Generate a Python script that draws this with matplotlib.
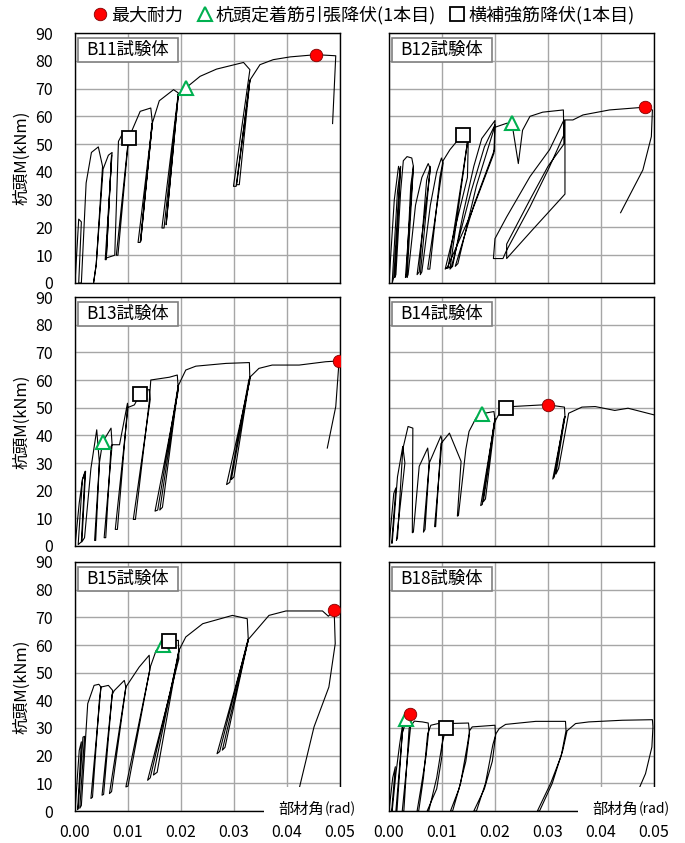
import numpy as np
import matplotlib
matplotlib.use('Agg')
import matplotlib.pyplot as plt
from matplotlib.lines import Line2D
from matplotlib.patches import Rectangle

plt.rcParams['font.family'] = ['Noto Sans CJK JP', 'DejaVu Sans']

# (部材角 [1/1000 rad], 杭頭M [kNm])
b11 = [(0, 0), (0.7, 23), (1.2, 22), (0.7, 0), (1.2, 0), (2.1, 36), (3.1, 47), (4.4, 49),
       (5.2, 42), (4.0, 6.6), (3.5, 0), (4.0, 6.6), (5.3, 41), (6.3, 46), (7.0, 47), (5.7, 8.4),
       (5.9, 8.4), (6.9, 46), (5.9, 9), (7.5, 10), (8.2, 51), (9.2, 54.6), (10.1, 52.2),
       (7.8, 10), (8.1, 10), (10.1, 52), (12.3, 61.8), (14.3, 63), (14.6, 57.6), (11.9, 14.6),
       (12.3, 14.6), (14.6, 57.6), (12.4, 15), (14.5, 57), (15.9, 65.6), (18.6, 69.6),
       (19.5, 68.4), (16.4, 19.8), (16.8, 19.8), (19.5, 68), (17.2, 21), (19.5, 68),
       (20.9, 70.2), (23.6, 74.4), (26.7, 77), (31.8, 79.4), (33.0, 76.8), (29.9, 34.8),
       (30.4, 34.8), (33.0, 73), (30.5, 35.4), (31.0, 35.4), (33.0, 73), (34.9, 78.6),
       (37.4, 80.4), (40.6, 81.4), (45.5, 82.2), (49.2, 81.8), (48.6, 57.4)]

b12 = [(0, 0), (1.0, 30), (1.8, 42), (2.1, 40), (0.9, 2), (0.6, 0), (1.6, 33), (2.2, 42),
       (1.1, 2), (1.3, 3), (2.2, 33), (2.7, 44), (3.4, 45.5), (4.3, 45), (4.6, 42), (3.1, 2),
       (3.3, 3), (4.1, 35), (4.6, 42), (3.4, 2), (3.6, 3), (5.0, 28), (6.2, 38), (7.4, 43),
       (7.8, 41), (5.3, 3), (5.7, 4), (7.1, 37), (7.8, 42), (5.9, 3), (6.2, 4), (7.8, 28),
       (9.0, 40), (9.9, 45), (10.2, 43), (7.3, 5), (7.7, 5), (9.6, 38), (10.2, 44), (11.5, 48),
       (12.8, 51), (13.9, 53.3), (15.0, 54.5), (14.8, 38), (10.6, 5), (11.2, 6), (13.8, 38),
       (14.9, 52), (11.5, 5), (12.0, 6), (14.0, 25), (16.0, 42), (17.5, 52), (20.0, 58.5),
       (19.8, 46.7), (15.5, 25), (10.9, 5.2), (11.8, 6), (15.5, 33), (18.0, 49), (20.0, 57),
       (19.9, 48), (16.0, 28), (12.5, 6), (13.0, 7), (16.5, 35), (19.9, 56), (22.2, 57.5),
       (23.2, 57.5), (24.4, 43), (25.2, 55), (26.6, 60), (29.0, 61.5), (32.9, 62.3),
       (33.0, 53.3), (30.3, 41.9), (26.6, 27.4), (22.2, 11.8), (21.5, 8.8), (19.7, 8.8),
       (20.0, 16), (22.2, 23.8), (26.6, 38.3), (30.3, 48), (33.0, 58.7), (33.0, 50),
       (30.0, 42), (26.6, 30), (22.2, 14), (22.2, 8.8), (27.0, 19), (33.2, 32), (33.2, 58.7),
       (34.7, 58.7), (36.6, 60.5), (41.6, 62.3), (48.3, 63.3), (49.7, 62.3), (49.5, 52.7),
       (47.9, 40.7), (43.7, 25.3)]

b13 = [(0, 0), (0.8, 15.6), (1.4, 24), (1.9, 27), (1.2, 1.5), (0.6, 0.5), (1.4, 24), (2.0, 27),
       (1.3, 1.5), (1.8, 3), (3.0, 28), (4.1, 42), (4.6, 30), (3.7, 2), (3.9, 2), (4.6, 30),
       (5.2, 37.5), (6.8, 42.6), (7.0, 36.6), (5.5, 3), (5.8, 3), (6.8, 36), (7.0, 36.6),
       (8.4, 36.6), (9.9, 51.6), (10.0, 50), (7.6, 6), (8.0, 6), (9.9, 50), (11.2, 51),
       (12.3, 54.9), (13.5, 56.4), (14.0, 56.5), (14.2, 53), (11.0, 9.6), (11.4, 9.6),
       (14.0, 52), (14.3, 60), (17.8, 61), (19.3, 61.8), (19.5, 56.4), (15.1, 12.6),
       (15.6, 13), (19.3, 56), (19.5, 58), (16.0, 13), (16.5, 14), (19.5, 58), (20.9, 63.6),
       (22.8, 65), (28.5, 66), (32.9, 66.3), (33.0, 60), (28.6, 22.2), (29.2, 23), (32.8, 60),
       (33.0, 61), (29.5, 24), (30.0, 25), (33.0, 61), (34.7, 64.2), (37.2, 65.4), (42.3, 65.4),
       (47.3, 66.6), (49.8, 66.9), (49.7, 63.6), (49.2, 50.4), (47.6, 35.4)]

b14 = [(0, 0), (0.9, 19), (1.3, 21), (0.5, 1), (0.6, 1), (1.6, 25), (2.6, 36), (3.0, 30),
       (1.4, 2), (1.6, 3), (2.6, 35), (3.6, 43.2), (4.5, 42.6), (4.4, 4.8), (4.6, 5), (5.7, 28.8),
       (7.3, 35.4), (7.6, 30), (6.5, 5), (6.8, 6), (7.6, 30), (9.8, 39.8), (10.0, 38), (8.6, 7),
       (8.8, 7), (9.8, 37), (11.4, 40.8), (13.6, 30.6), (12.9, 10.8), (13.1, 11), (14.5, 35),
       (15.1, 41.4), (16.4, 46.2), (17.5, 47.8), (19.8, 48.6), (20.0, 45.6), (17.3, 14.6),
       (17.6, 15), (19.8, 44), (20.0, 46), (17.8, 16), (18.2, 17), (20.0, 45), (21.0, 48.6),
       (22.0, 49.8), (23.2, 50.4), (28.9, 51), (30.0, 51), (33.1, 50.2), (33.2, 46.8),
       (30.9, 24.2), (31.2, 25), (33.0, 46), (33.2, 46.8), (31.5, 26), (32.0, 28), (33.9, 48),
       (36.4, 50.2), (38.9, 50.4), (42.6, 49), (45.1, 49.8), (50.0, 47.4)]

b15 = [(0, 0), (0.8, 21.9), (1.2, 25), (0.5, 0.5), (0.6, 1), (1.5, 26.7), (1.8, 27), (0.9, 1),
       (1.2, 2), (2.4, 38.8), (3.6, 45.4), (4.5, 45.8), (4.9, 44.8), (3.0, 4.5), (3.3, 5),
       (4.6, 40), (4.9, 44.8), (6.3, 45.4), (7.1, 43.6), (5.1, 5.7), (5.4, 6), (7.0, 42),
       (7.4, 43.5), (9.3, 47.2), (9.6, 44.8), (6.5, 6.3), (6.9, 7), (9.6, 44.8), (12.1, 52),
       (14.0, 56.3), (14.1, 50.8), (9.6, 8.7), (10.0, 9), (14.0, 50), (14.2, 52), (15.3, 58),
       (16.6, 59.9), (17.8, 61.3), (19.5, 61.7), (19.6, 55), (13.7, 11.1), (14.2, 12),
       (19.5, 56), (19.6, 58), (14.8, 13), (15.5, 14), (19.6, 58), (20.9, 62.9), (24.1, 67.7),
       (29.7, 70.7), (32.5, 69.5), (32.7, 61.7), (26.8, 20.7), (27.3, 21.5), (32.5, 61),
       (32.7, 62), (27.8, 22), (28.3, 23), (32.7, 62), (36.6, 70.7), (39.8, 72.3), (46.7, 72.3),
       (47.8, 70.4), (48.9, 72.5), (49.1, 60.5), (47.9, 44.8), (45.1, 30.4), (42.3, 8.1),
       (41.5, 0)]

b18 = [(0, 0), (0.7, 12), (1.2, 16), (0.5, 0), (0.6, 0), (1.3, 13.5), (2.0, 24), (2.5, 30.4),
       (2.6, 30), (1.3, 0), (1.5, 0), (2.5, 28), (3.3, 33.1), (3.9, 34.9), (4.2, 33), (2.5, 0),
       (2.8, 0), (3.8, 30), (4.8, 32.5), (5.2, 32.4), (6.3, 32.2), (7.4, 31.8), (7.5, 29),
       (7.0, 20), (6.0, 8), (5.3, 0), (5.6, 0), (6.5, 12), (7.3, 28), (7.9, 31), (9.7, 31.8),
       (10.2, 31.5), (10.0, 20), (9.0, 8), (7.2, 0), (7.5, 0), (9.0, 12), (10.0, 24), (10.7, 30),
       (11.0, 31.6), (15.0, 31.8), (15.2, 28), (14.5, 18), (13.2, 8), (11.6, 0), (12.0, 0),
       (13.5, 10), (14.8, 24), (15.2, 29), (15.7, 30.4), (20.0, 31), (20.1, 27), (19.5, 18),
       (18.0, 8), (16.0, 0), (16.5, 0), (18.2, 10), (19.6, 24), (20.2, 28), (20.8, 29.8),
       (22.0, 31.3), (27.7, 32.4), (33.3, 32.4), (33.4, 29), (32.5, 20), (30.5, 10), (28.0, 0),
       (28.4, 0), (30.8, 10), (32.8, 22), (33.6, 29), (35.2, 31.6), (37.7, 32.2), (44.0, 32.8),
       (49.7, 33), (49.8, 30.4), (49.6, 23.1), (48.4, 13.5), (46.5, 5.1), (45.6, 0)]

names = ['B11', 'B12', 'B13', 'B14', 'B15', 'B18']
curves = [b11, b12, b13, b14, b15, b18]

# 最大耐力
max_rot = [45.5, 48.3, 49.8, 30.0, 48.9, 3.9]
max_m = [82.2, 63.3, 66.9, 51.0, 72.5, 34.9]
# 杭頭定着筋引張降伏(1本目)
anc_rot = [20.9, 23.2, 5.2, 17.5, 16.6, 3.3]
anc_m = [70.2, 57.5, 37.5, 47.8, 59.9, 33.1]
# 横補強筋降伏(1本目)
hoop_rot = [10.1, 13.9, 12.3, 22.0, 17.8, 10.7]
hoop_m = [52.2, 53.3, 54.9, 49.8, 61.3, 30.0]

W, H = 685, 843
fig = plt.figure(figsize=(W / 100, H / 100), dpi=100)

lefts = [75, 389]
tops = [33, 297, 562]
bottoms = [283, 546, 811]

for i, name in enumerate(names):
    r, c = divmod(i, 2)
    ax = fig.add_axes([lefts[c] / W, 1 - bottoms[r] / H, 265 / W, (bottoms[r] - tops[r]) / H])
    rot, m = np.array(curves[i], dtype=float).T
    ax.plot(rot / 1000, m, color='black', lw=0.8, zorder=3)

    ax.plot(anc_rot[i] / 1000, anc_m[i], marker='^', ms=10, mfc='white', mec='#00b050', mew=1.5, zorder=4)
    ax.plot(hoop_rot[i] / 1000, hoop_m[i], marker='s', ms=10, mfc='white', mec='black', mew=1.3, zorder=5)
    ax.plot(max_rot[i] / 1000, max_m[i], marker='o', ms=9, mfc='#ff0000', mec='#7f0000', mew=0.6, zorder=6)

    ax.set_xlim(0, 0.05)
    ax.set_ylim(0, 90)
    ax.set_xticks(np.arange(0, 0.0501, 0.01))
    ax.set_yticks(range(0, 91, 10))
    ax.set_axisbelow(True)
    ax.grid(color='#a6a6a6', lw=1.0)
    ax.tick_params(length=0, labelsize=11.5)
    ax.tick_params(axis='y', pad=16)
    ax.tick_params(axis='x', pad=9.5)
    for s in ax.spines.values():
        s.set_color('black')
        s.set_linewidth(1.0)
    if c == 1:
        ax.set_yticklabels([])
    if r < 2:
        ax.set_xticklabels([])
    else:
        ax.set_xticklabels(['%.2f' % v for v in np.arange(0, 0.0501, 0.01)])
        ax.add_patch(Rectangle((0.715, -0.03), 0.36, 0.125, transform=ax.transAxes,
                               facecolor='white', edgecolor='none', clip_on=False, zorder=9))
        t1 = ax.text(0.768, 0.008, '部材角', transform=ax.transAxes, ha='left', va='center',
                     fontsize=11, zorder=10)
        ax.annotate('(rad)', xy=(1, 0.5), xycoords=t1, ha='left', va='center', fontsize=10,
                    zorder=10)

    ax.add_patch(Rectangle((0.012, 0.884), 0.376, 0.096, transform=ax.transAxes,
                           facecolor='white', edgecolor='#7f7f7f', lw=1.2, zorder=7))
    ax.text(0.2, 0.932, name + '試験体', transform=ax.transAxes, ha='center', va='center',
            fontsize=12.5, zorder=8)

for r in range(3):
    fig.text(22 / W, 1 - (tops[r] + bottoms[r]) / 2 / H, '杭頭M(kNm)', rotation=90,
             ha='center', va='center', fontsize=12)

handles = [
    Line2D([], [], ls='none', marker='o', ms=9, mfc='#ff0000', mec='#7f0000', mew=0.6),
    Line2D([], [], ls='none', marker='^', ms=10, mfc='white', mec='#00b050', mew=1.5),
    Line2D([], [], ls='none', marker='s', ms=10, mfc='white', mec='black', mew=1.3),
]
labels = ['最大耐力', '杭頭定着筋引張降伏(1本目)', '横補強筋降伏(1本目)']
fig.legend(handles, labels, loc='center', bbox_to_anchor=(0.531, 0.982), ncol=3,
           frameon=False, fontsize=13, handlelength=0.8, handletextpad=0.2,
           columnspacing=0.8, borderpad=0)

fig.savefig('out.png', dpi=100)
